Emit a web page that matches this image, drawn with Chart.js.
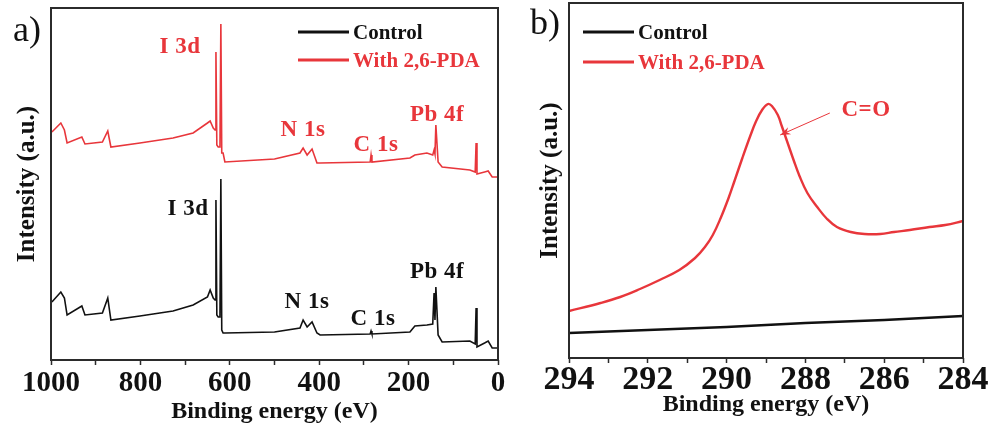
<!DOCTYPE html>
<html>
<head>
<meta charset="utf-8">
<title>XPS spectra</title>
<script src="https://cdn.jsdelivr.net/npm/chart.js@4.4.1/dist/chart.umd.min.js"></script>
<style>
    html, body { margin: 0; padding: 0; background: #fff; }
    #wrap { position: relative; width: 989px; height: 434px; overflow: hidden; font-family: 'Liberation Serif', 'Times New Roman', serif; }
    canvas { position: absolute; top: 0; }
    #surveyChart { left: 0; }
    #carbonChart { left: 519px; }
    .lbl { position: absolute; transform: translate(-50%, -50%); font-weight: bold; font-size: 23px; line-height: 1; white-space: nowrap; letter-spacing: 0.5px; }
    .red { color: #e8363b; }
    .blk { color: #111; }
    .legend-row { position: absolute; display: flex; align-items: center; font-weight: bold; font-size: 21px; line-height: 1; white-space: nowrap; transform: translateY(-50%); }
    .legend-row .swatch { display: inline-block; width: 51px; height: 0; border-top: 3px solid; margin-right: 4px; }
    .panel { position: absolute; transform: translate(-50%, -50%); font-size: 36px; line-height: 1; color: #111; }
</style>
</head>
<body>
<div id="wrap">
    <canvas id="surveyChart" width="510" height="434"></canvas>
    <canvas id="carbonChart" width="470" height="434"></canvas>

    <div class="panel" style="left:27px; top:29px;">a)</div>
    <div class="panel" style="left:545px; top:22px;">b)</div>

    <!-- legend, panel a -->
    <div class="legend-row blk" style="left:298px; top:32px;"><span class="swatch" style="border-color:#111"></span>Control</div>
    <div class="legend-row red" style="left:298px; top:60px;"><span class="swatch" style="border-color:#e8363b"></span>With 2,6-PDA</div>
    <!-- legend, panel b -->
    <div class="legend-row blk" style="left:583px; top:32px;"><span class="swatch" style="border-color:#111"></span>Control</div>
    <div class="legend-row red" style="left:583px; top:62px;"><span class="swatch" style="border-color:#e8363b"></span>With 2,6-PDA</div>

    <!-- peak labels, panel a -->
    <div class="lbl red" style="left:180px; top:45px;">I 3d</div>
    <div class="lbl red" style="left:303px; top:128px;">N 1s</div>
    <div class="lbl red" style="left:376px; top:143px;">C 1s</div>
    <div class="lbl red" style="left:437px; top:113px;">Pb 4f</div>
    <div class="lbl blk" style="left:188px; top:207px;">I 3d</div>
    <div class="lbl blk" style="left:307px; top:300px;">N 1s</div>
    <div class="lbl blk" style="left:373px; top:317px;">C 1s</div>
    <div class="lbl blk" style="left:437px; top:270px;">Pb 4f</div>
    <!-- panel b -->
    <div class="lbl red" style="left:866px; top:108px;">C=O</div>
</div>

<script>
// Survey spectra (panel a), binding energy in eV, intensity in a.u.
const surveyEnergy = [998, 978, 970, 964, 931, 924, 885, 873, 866, 801, 727, 682, 650, 644, 637, 633, 631, 629,
    626, 622, 620, 618, 615, 611, 500, 443, 436, 427, 416, 405, 398, 286, 284, 282, 197, 186, 159, 146, 143,
    141, 139, 134, 125, 63, 51, 49, 47, 30, 22, 13, 0];
const surveyControl = [58, 68, 62, 45, 54, 45, 47, 62, 40, 44, 49, 55, 63, 70, 62, 60, 160, 45,
    43, 43, 181, 30, 27, 27, 28, 32, 40, 33, 38, 27, 25, 26, 29, 26, 28, 34, 35, 36, 67,
    40, 73, 25, 18, 19, 16, 52, 13, 17, 19, 12, 12];
const surveyPDA = [228, 237, 230, 217, 223, 216, 218, 229, 213, 217, 222, 227, 237, 239, 232, 230, 308, 215,
    213, 213, 336, 207, 207, 198, 201, 207, 212, 205, 211, 197, 197, 198, 205, 198, 202, 205, 207, 205, 210,
    206, 235, 198, 193, 190, 188, 217, 186, 188, 189, 183, 183];
const surveyTicks = [1000, 800, 600, 400, 200, 0];

// C 1s spectra (panel b)
const carbonEnergyPDA = [294.0, 293.2, 292.7, 292.2, 291.7, 291.2, 290.8, 290.55, 290.35, 290.15, 289.95, 289.8,
    289.6, 289.4, 289.25, 289.1, 288.95, 288.85, 288.7, 288.6, 288.45, 288.3, 288.15, 287.95, 287.7, 287.45,
    287.2, 286.85, 286.5, 286.1, 285.75, 285.35, 284.85, 284.45, 284.0];
const carbonPDA = [47, 55, 61, 69, 78, 88, 100, 111, 123, 140, 160, 177, 200, 222, 237, 248, 254, 252, 243, 232,
    215, 198, 182, 165, 151, 139, 131, 126, 124, 124, 126, 128, 131, 133, 137];
const carbonEnergyControl = [294, 292, 290, 288, 286, 284];
const carbonControl = [25, 28, 31, 35, 38, 42];
const carbonTicks = [294, 292, 290, 288, 286, 284];

// C=O arrow, from label towards the peak (energy, intensity)
const arrowFrom = [287.38, 245];
const arrowTo = [288.64, 223];

const RED = '#e8363b';
const BLACK = '#111111';
const FONT = "'Liberation Serif', 'Times New Roman', serif";

function toPoints(xs, ys) {
    return xs.map((x, i) => ({ x: x, y: ys[i] }));
}

// draws the closed box around the plot area
const framePlugin = {
    id: 'frame',
    afterDraw(chart) {
        const { ctx, chartArea } = chart;
        ctx.save();
        ctx.strokeStyle = '#2b2b2b';
        ctx.lineWidth = 2;
        ctx.strokeRect(chartArea.left, chartArea.top, chartArea.right - chartArea.left, chartArea.bottom - chartArea.top);
        ctx.restore();
    }
};

const arrowPlugin = {
    id: 'arrow',
    afterDatasetsDraw(chart) {
        const { ctx, scales } = chart;
        const x0 = scales.x.getPixelForValue(arrowFrom[0]);
        const y0 = scales.y.getPixelForValue(arrowFrom[1]);
        const x1 = scales.x.getPixelForValue(arrowTo[0]);
        const y1 = scales.y.getPixelForValue(arrowTo[1]);
        const ang = Math.atan2(y1 - y0, x1 - x0);
        ctx.save();
        ctx.strokeStyle = RED;
        ctx.fillStyle = RED;
        ctx.lineWidth = 1;
        ctx.beginPath();
        ctx.moveTo(x0, y0);
        ctx.lineTo(x1, y1);
        ctx.stroke();
        ctx.beginPath();
        ctx.moveTo(x1, y1);
        ctx.lineTo(x1 - 11 * Math.cos(ang - 0.35), y1 - 11 * Math.sin(ang - 0.35));
        ctx.lineTo(x1 - 7 * Math.cos(ang), y1 - 7 * Math.sin(ang));
        ctx.lineTo(x1 - 11 * Math.cos(ang + 0.35), y1 - 11 * Math.sin(ang + 0.35));
        ctx.closePath();
        ctx.fill();
        ctx.restore();
    }
};

function xAxis(min, max, step, labels, opts) {
    return {
        type: 'linear',
        reverse: true,
        min: min,
        max: max,
        afterFit: function(scale) { scale.height = opts.height; },
        border: { display: false },
        grid: {
            drawOnChartArea: false,
            drawTicks: true,
            tickLength: 5,
            tickColor: '#2b2b2b',
            tickWidth: 1.5
        },
        ticks: {
            stepSize: step,
            autoSkip: false,
            maxRotation: 0,
            minRotation: 0,
            padding: opts.tickPad,
            color: BLACK,
            font: { family: FONT, size: opts.tickSize, weight: 'bold', lineHeight: 1 },
            callback: function(value) {
                return labels.includes(value) ? String(value) : '';
            }
        },
        title: {
            display: true,
            text: 'Binding energy (eV)',
            color: BLACK,
            font: { family: FONT, size: 24, weight: 'bold', lineHeight: 1 },
            padding: { top: 0, bottom: opts.titlePad }
        }
    };
}

function yAxis(max, opts) {
    return {
        type: 'linear',
        min: 0,
        max: max,
        afterFit: function(scale) { scale.width = opts.width; },
        border: { display: false },
        grid: { display: false },
        ticks: { display: false },
        title: {
            display: true,
            text: 'Intensity (a.u.)',
            color: BLACK,
            font: { family: FONT, size: 25, weight: 'bold', lineHeight: 1 },
            padding: { top: opts.titlePad, bottom: 0 }
        }
    };
}

document.addEventListener('DOMContentLoaded', function() {
    if (typeof Chart === 'undefined') {
        console.error('Chart.js not loaded');
        return;
    }

    new Chart(document.getElementById('surveyChart'), {
        type: 'line',
        data: {
            datasets: [
                {
                    label: 'Control',
                    data: toPoints(surveyEnergy, surveyControl),
                    borderColor: BLACK,
                    borderWidth: 1.6,
                    pointRadius: 0,
                    tension: 0
                },
                {
                    label: 'With 2,6-PDA',
                    data: toPoints(surveyEnergy, surveyPDA),
                    borderColor: RED,
                    borderWidth: 1.6,
                    pointRadius: 0,
                    tension: 0
                }
            ]
        },
        options: {
            responsive: false,
            animation: false,
            layout: { padding: { top: 8, right: 12, left: 0, bottom: 0 } },
            plugins: { legend: { display: false }, tooltip: { enabled: false } },
            scales: {
                x: xAxis(0, 1000, 100, surveyTicks, { height: 74, tickSize: 29, tickPad: 4, titlePad: 10 }),
                y: yAxis(352, { width: 51, titlePad: 15 })
            }
        },
        plugins: [framePlugin]
    });

    new Chart(document.getElementById('carbonChart'), {
        type: 'line',
        data: {
            datasets: [
                {
                    label: 'Control',
                    data: toPoints(carbonEnergyControl, carbonControl),
                    borderColor: BLACK,
                    borderWidth: 2.4,
                    pointRadius: 0,
                    tension: 0
                },
                {
                    label: 'With 2,6-PDA',
                    data: toPoints(carbonEnergyPDA, carbonPDA),
                    borderColor: RED,
                    borderWidth: 2.4,
                    pointRadius: 0,
                    tension: 0.4
                }
            ]
        },
        options: {
            responsive: false,
            animation: false,
            layout: { padding: { top: 3, right: 26, left: 0, bottom: 0 } },
            plugins: { legend: { display: false }, tooltip: { enabled: false } },
            scales: {
                x: xAxis(284, 294, 1, carbonTicks, { height: 76, tickSize: 34, tickPad: 0, titlePad: 17 }),
                y: yAxis(355, { width: 50, titlePad: 19 })
            }
        },
        plugins: [framePlugin, arrowPlugin]
    });
});
</script>
</body>
</html>
